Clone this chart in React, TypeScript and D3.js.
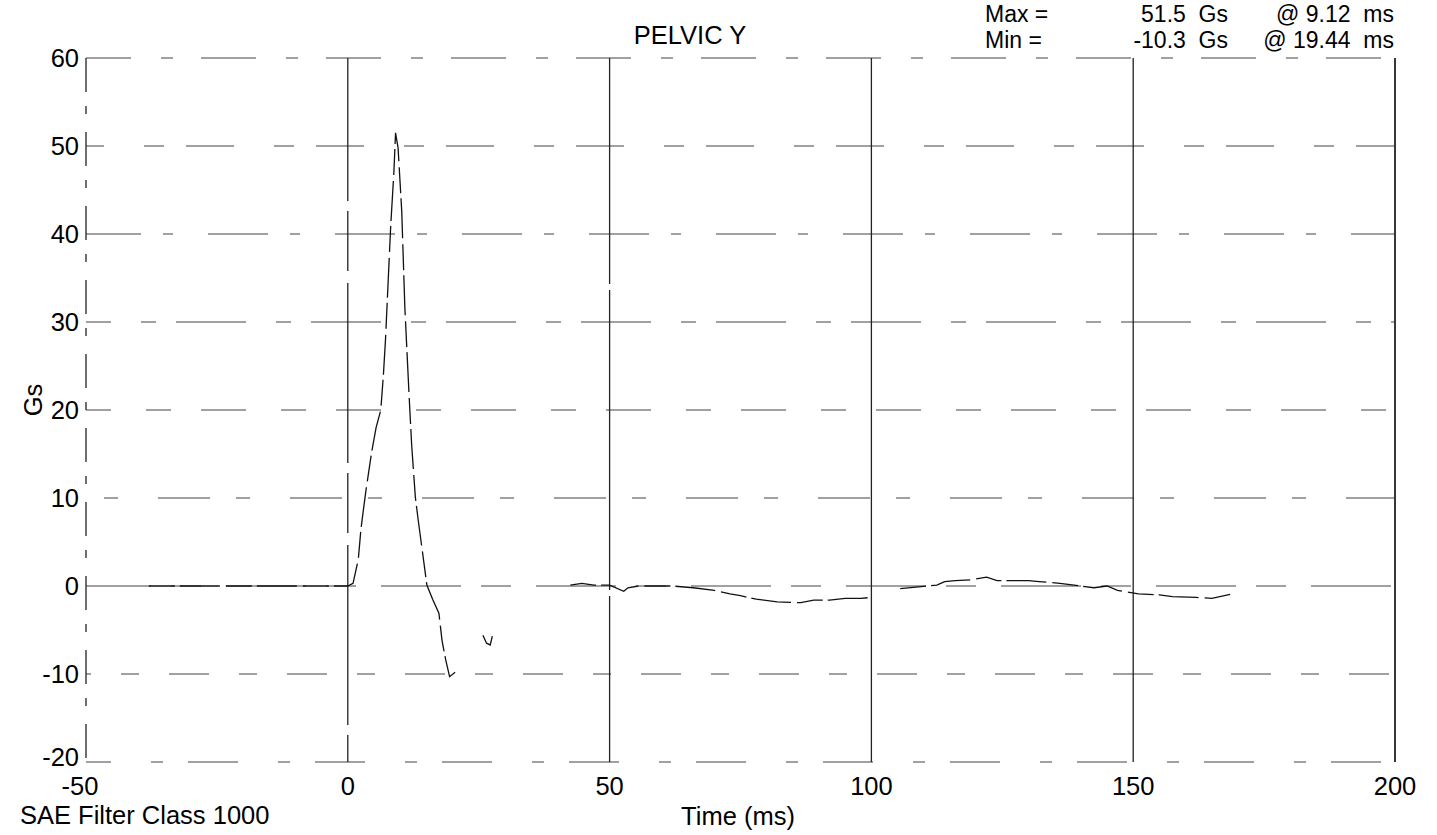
import React from "react";
import * as d3 from "d3";

const title = "PELVIC Y";
const xTicks = [-50, 0, 50, 100, 150, 200];
const yTicks = [60, 50, 40, 30, 20, 10, 0, -10, -20];
const xLabel = "Time (ms)";
const yLabel = "Gs";
const footer = "SAE Filter Class 1000";
const statLabels = ["Max =", "Min ="];
const statValues = ["51.5  Gs", "-10.3  Gs"];
const statTimes = ["@ 9.12  ms", "@ 19.44  ms"];

// trace segments (time ms, Gs); null separates visible pieces of the scanned trace
const timeMs: (number | null)[] = [
  -38, -30, -20, -10, -5, 0, 1, 2, 2.5, 2.9, 3.5, 4.5, 5.4, 6.3, 6.8, 7.2, 8.2, 8.8, 9.12, 9.6,
  10.3, 10.9, 11.7, 12.2, 12.9, 13.4, 14.5, 15.1, 16.2, 17.4, 18, 18.7, 19.44, 20.5, null,
  25.8, 26.5, 27.2, 27.6, null,
  42.5, 44.7, 47, 50, 52.7, 53.5, 55.5, 60.5, 62, 66, 70, 73, 75, 78, 82, 86.5, 89, 92, 95, 98, 100, null,
  105.5, 109, 112.5, 114, 116, 119, 122, 124, 127, 130, 132, 136, 140, 142.5, 145, 147, 151, 155,
  157.5, 162, 165, 169,
];
const accelGs: (number | null)[] = [
  0, 0, 0, 0, 0, 0, 0.3, 3, 6.4, 8.3, 11, 15, 18, 20, 24, 28, 41, 47, 51.5, 49.8,
  42.6, 31.6, 21.7, 16, 10.1, 7.7, 2.8, 0.1, -1.5, -3.1, -6.2, -8.4, -10.3, -9.8, null,
  -5.6, -6.5, -6.7, -5.7, null,
  0.1, 0.3, 0.1, 0.1, -0.6, -0.2, 0, 0, 0, -0.2, -0.5, -0.9, -1.1, -1.5, -1.8, -1.9, -1.6, -1.6, -1.4, -1.4, -1.3, null,
  -0.3, -0.1, 0.1, 0.5, 0.6, 0.7, 1.0, 0.6, 0.6, 0.6, 0.5, 0.3, 0.0, -0.2, 0.0, -0.5, -0.9, -1.0,
  -1.2, -1.3, -1.4, -0.9,
];

const W = 1437;
const H = 835;
const FONT = "'Liberation Sans', Arial, sans-serif";
const FS = 25.5;

export default function App() {
  const x = d3.scaleLinear().domain([-50, 200]).range([86, 1395]);
  const y = d3.scaleLinear().domain([-20, 60]).range([762, 58]);

  const pts = timeMs.map((t, i) => ({ t, v: accelGs[i] }));
  const line = d3
    .line<{ t: number | null; v: number | null }>()
    .defined((d) => d.t !== null && d.v !== null)
    .x((d) => x(d.t as number))
    .y((d) => y(d.v as number));

  const hDash = ["55 30 12 28", "48 40 20 22", "60 22 10 35", "70 30 15 20", "45 35 25 30", "52 26 14 40", "80 20 30 25", "40 30 18 30", "50 40 12 25"];
  const hOff = [10, 30, 5, 45, 20, 60, 15, 35, 25];

  return (
    <div style={{ position: "absolute", left: 0, top: 0 }}>
      <svg width={W} height={H} style={{ display: "block", background: "#fff" }}>
        {/* horizontal grid lines */}
        {yTicks.map((v, i) => (
          <line
            key={"h" + v}
            x1={x(-50)}
            x2={x(200)}
            y1={y(v)}
            y2={y(v)}
            stroke="#444"
            strokeWidth={1.2}
            strokeDasharray={hDash[i]}
            strokeDashoffset={hOff[i]}
          />
        ))}
        {/* vertical grid lines */}
        {xTicks.map((t, i) => (
          <line
            key={"v" + t}
            x1={x(t)}
            x2={x(t)}
            y1={y(60)}
            y2={y(-20)}
            stroke="#222"
            strokeWidth={t === 200 ? 1.8 : 1.3}
            strokeDasharray={t === -50 ? "34 14 8 18" : t === 0 ? "180 10 60 12" : t === 50 ? "300 6" : "none"}
            strokeDashoffset={i * 37}
          />
        ))}
        {/* trace */}
        <path d={line(pts) || ""} fill="none" stroke="#111" strokeWidth={1.3} strokeDasharray="26 5 40 6" />

        {/* y tick labels */}
        {yTicks.map((v) => (
          <text key={"yl" + v} x={79} y={y(v) + (v === -20 ? 4 : 9)} textAnchor="end" fontFamily={FONT} fontSize={FS} fill="#000">
            {v}
          </text>
        ))}
        {/* x tick labels */}
        {xTicks.map((t) => (
          <text key={"xl" + t} x={x(t) - (t === -50 ? 6 : 0)} y={795} textAnchor="middle" fontFamily={FONT} fontSize={FS} fill="#000">
            {t}
          </text>
        ))}
        <text x={738} y={825} textAnchor="middle" fontFamily={FONT} fontSize={FS} fill="#000">
          {xLabel}
        </text>
        <text x={20} y={824} fontFamily={FONT} fontSize={FS} fill="#000">
          {footer}
        </text>
        <text transform="translate(42,400) rotate(-90)" textAnchor="middle" fontFamily={FONT} fontSize={FS} fill="#000">
          {yLabel}
        </text>
        <text x={690} y={44} textAnchor="middle" fontFamily={FONT} fontSize={FS} fill="#000">
          {title}
        </text>
        {statLabels.map((s, i) => (
          <g key={"st" + i}>
            <text x={985} y={22 + i * 26} fontFamily={FONT} fontSize={23} fill="#000">
              {s}
            </text>
            <text x={1228} y={22 + i * 26} textAnchor="end" fontFamily={FONT} fontSize={23} fill="#000" xmlSpace="preserve" style={{ whiteSpace: "pre" }}>
              {statValues[i]}
            </text>
            <text x={1394} y={22 + i * 26} textAnchor="end" fontFamily={FONT} fontSize={23} fill="#000" xmlSpace="preserve" style={{ whiteSpace: "pre" }}>
              {statTimes[i]}
            </text>
          </g>
        ))}
      </svg>
    </div>
  );
}
